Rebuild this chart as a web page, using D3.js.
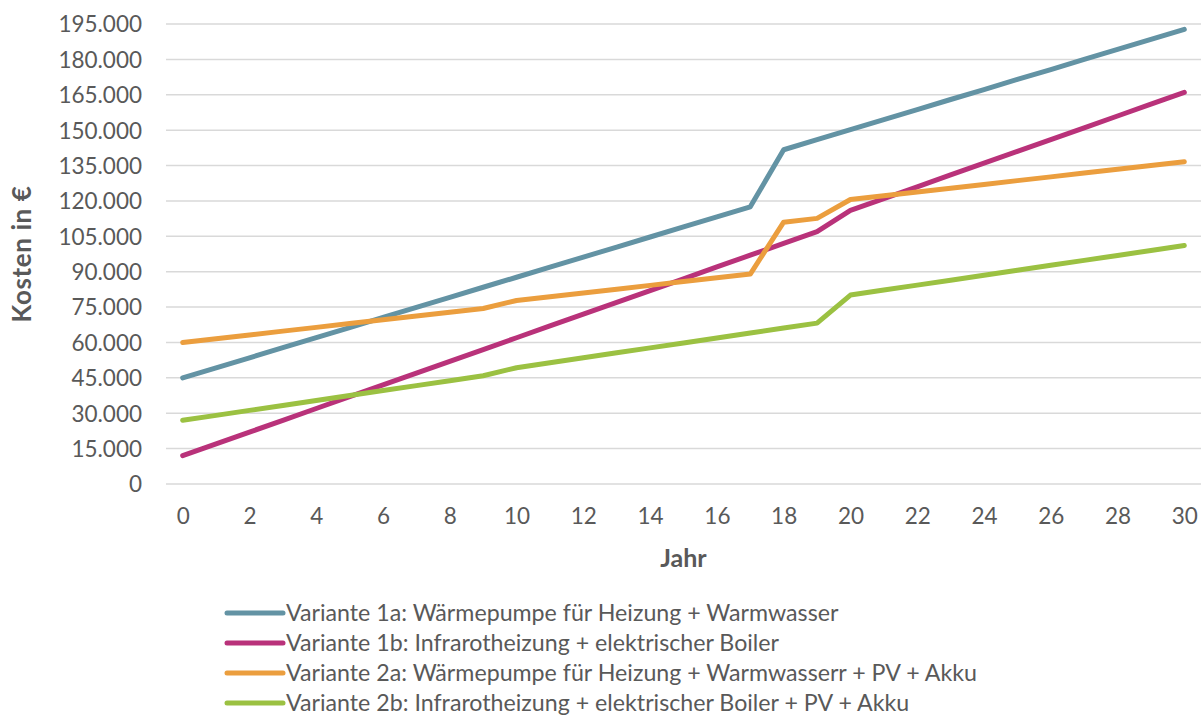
<!DOCTYPE html>
<html>
<head>
<meta charset="utf-8">
<script src="https://cdn.jsdelivr.net/npm/d3@7"></script>
<style>
  html, body { margin: 0; padding: 0; background: #fff; }
  svg { display: block; font-family: Lato, "Open Sans", sans-serif; }
</style>
</head>
<body>
<svg id="chart" width="1203" height="716"></svg>
<script>
const years = d3.range(0, 31);
const xTickLabels = [0, 2, 4, 6, 8, 10, 12, 14, 16, 18, 20, 22, 24, 26, 28, 30];
const yTickValues = [0, 15000, 30000, 45000, 60000, 75000, 90000, 105000, 120000, 135000, 150000, 165000, 180000, 195000];

const seriesNames = [
  "Variante 1a: Wärmepumpe für Heizung + Warmwasser",
  "Variante 1b: Infrarotheizung + elektrischer Boiler",
  "Variante 2a: Wärmepumpe für Heizung + Warmwasserr + PV + Akku",
  "Variante 2b: Infrarotheizung + elektrischer Boiler + PV + Akku"
];
const seriesColors = ["#6393a4", "#b9327a", "#eb9e3e", "#9bc142"];

const v1a = [45000, 49250, 53500, 57800, 62050, 66300, 70600, 74850, 79100, 83400, 87650,
  91900, 96200, 100450, 104700, 109000, 113250, 117500, 141700, 146000, 150200,
  154500, 158700, 163000, 167200, 171500, 175700, 180000, 184200, 188500, 192700];
const v1b = [12000, 17000, 22000, 27000, 32000, 37000, 42000, 47000, 52000, 57000, 62000,
  67000, 72000, 77000, 82000, 87000, 92000, 97000, 102000, 107000, 116000,
  121000, 126000, 131000, 136000, 141000, 146000, 151000, 156000, 161000, 166000];
const v2a = [60000, 61600, 63200, 64800, 66400, 68000, 69600, 71200, 72800, 74400, 77800,
  79400, 81000, 82600, 84200, 85800, 87400, 89000, 111000, 112600, 120600,
  122200, 123800, 125400, 127000, 128600, 130200, 131800, 133400, 135000, 136600];
const v2b = [27000, 29100, 31200, 33300, 35400, 37500, 39600, 41700, 43800, 45900, 49300,
  51400, 53500, 55600, 57700, 59800, 61900, 64000, 66100, 68200, 80100,
  82200, 84300, 86400, 88500, 90600, 92700, 94800, 96900, 99000, 101100];
const seriesValues = [v1a, v1b, v2a, v2b];

const svg = d3.select("#chart");
const textColor = "#595959";
const fontSize = 22;

const x = d3.scaleLinear().domain([-0.5, 30.5]).range([166, 1201]);
const y = d3.scaleLinear().domain([0, 195000]).range([484, 24]);
const fmt = d3.formatLocale({ decimal: ",", thousands: ".", grouping: [3], currency: ["", "€"] }).format(",");

// gridlines
svg.append("g").selectAll("line").data(yTickValues).join("line")
  .attr("x1", x.range()[0]).attr("x2", x.range()[1])
  .attr("y1", d => y(d)).attr("y2", d => y(d))
  .attr("stroke", "#d9d9d9").attr("stroke-width", 1.5);

// y axis labels
const yAxis = d3.axisLeft(y).tickValues(yTickValues).tickFormat(fmt).tickSize(0).tickPadding(0);
const gy = svg.append("g").attr("transform", "translate(142,0)").call(yAxis);
gy.select(".domain").remove();
gy.selectAll("text").attr("font-size", 22.5).attr("fill", textColor)
  .attr("font-family", "Lato, sans-serif").attr("dy", "0.35em");

// x axis labels
const xAxis = d3.axisBottom(x).tickValues(xTickLabels).tickFormat(d => d).tickSize(0).tickPadding(0);
const gx = svg.append("g").attr("transform", "translate(0,508)").call(xAxis);
gx.select(".domain").remove();
gx.selectAll("text").attr("font-size", 22.5).attr("fill", textColor)
  .attr("font-family", "Lato, sans-serif").attr("dy", "0.72em");

// axis titles
svg.append("text").attr("x", x(15)).attr("y", 567).attr("text-anchor", "middle")
  .attr("font-size", 25).attr("font-weight", "bold").attr("fill", textColor)
  .text("Jahr");
svg.append("text").attr("transform", `translate(31,${(y.range()[0] + y.range()[1]) / 2}) rotate(-90)`)
  .attr("text-anchor", "middle")
  .attr("font-size", 26).attr("font-weight", "bold").attr("fill", textColor)
  .attr("letter-spacing", 0.6)
  .text("Kosten in €");

// lines
const line = d3.line().x((d, i) => x(years[i])).y(d => y(d));
svg.append("g").selectAll("path").data(seriesValues).join("path")
  .attr("d", d => line(d))
  .attr("fill", "none")
  .attr("stroke", (d, i) => seriesColors[i])
  .attr("stroke-width", 5)
  .attr("stroke-linecap", "round")
  .attr("stroke-linejoin", "round");

// legend
const lg = svg.append("g").selectAll("g").data(seriesNames).join("g")
  .attr("transform", (d, i) => `translate(0,${613 + i * 30})`);
lg.append("line").attr("x1", 227).attr("x2", 283).attr("y1", 0).attr("y2", 0)
  .attr("stroke", (d, i) => seriesColors[i]).attr("stroke-width", 5).attr("stroke-linecap", "round");
lg.append("text").attr("x", 286).attr("y", 0).attr("dy", "0.35em")
  .attr("font-size", 23.2).attr("fill", textColor).text(d => d);
</script>
</body>
</html>
